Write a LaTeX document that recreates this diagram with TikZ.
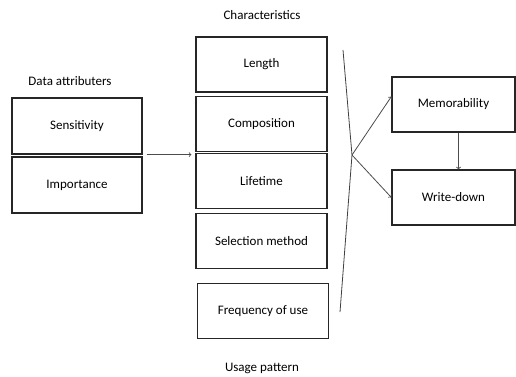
\documentclass[tikz,border=0pt]{standalone}
\usepackage{fontspec}
\setmainfont{Carlito}
\begin{document}
\begin{tikzpicture}[x=1pt, y=-1pt, font=\fontsize{13}{15}\selectfont, leftbox/.style={draw=black!85,line width=1.2pt,minimum width=130pt,minimum height=56pt}, charbox/.style={draw=black!85,line width=1.2pt,minimum width=131pt,minimum height=55pt}, outbox/.style={draw=black!85,line width=1.2pt,minimum width=123pt,minimum height=55pt}, link/.style={->,draw=black!70,line width=0.8pt}]
\useasboundingbox (0,0) rectangle (516,376);

\node (dataattr) at (70, 81) {Data attributers}; 
\node[leftbox] (sens) at (77, 126) {Sensitivity}; 
\node[leftbox] (imp) at (77, 185) {Importance}; 

\node (charact) at (262, 15) {Characteristics}; 
\node[charbox] (length) at (261.5, 64.5) {Length}; 
\node[charbox] (compo) at (261.5, 124) {Composition}; 
\node[charbox] (life) at (261.5, 181) {Lifetime}; 
\node[charbox] (select) at (261.5, 241) {Selection method}; 
\node[charbox] (freq) at (263, 311) {Frequency of use}; 
\node (usage) at (262, 368) {Usage pattern}; 

\node[outbox] (memo) at (453.5, 104.5) {Memorability}; 
\node[outbox] (write) at (453.5, 197.5) {Write-down}; 

\coordinate (top) at (343, 50); 
\coordinate (tip) at (352, 155); 
\coordinate (bottom) at (340, 312); 

\draw [link, shorten >=8pt] ([xshift=4pt]sens.south east) -- ([xshift=4pt]sens.south east -| life.west); 
\draw [black!75, line width=0.8pt] (top) -- (tip) -- (bottom); 
\draw [link] (tip) -- ([yshift=8pt]memo.west); 
\draw [link] (tip) -- (write.west); 
\draw [link] ([xshift=5pt]memo.south) -- ([xshift=5pt]write.north); 

\end{tikzpicture}
\end{document}
